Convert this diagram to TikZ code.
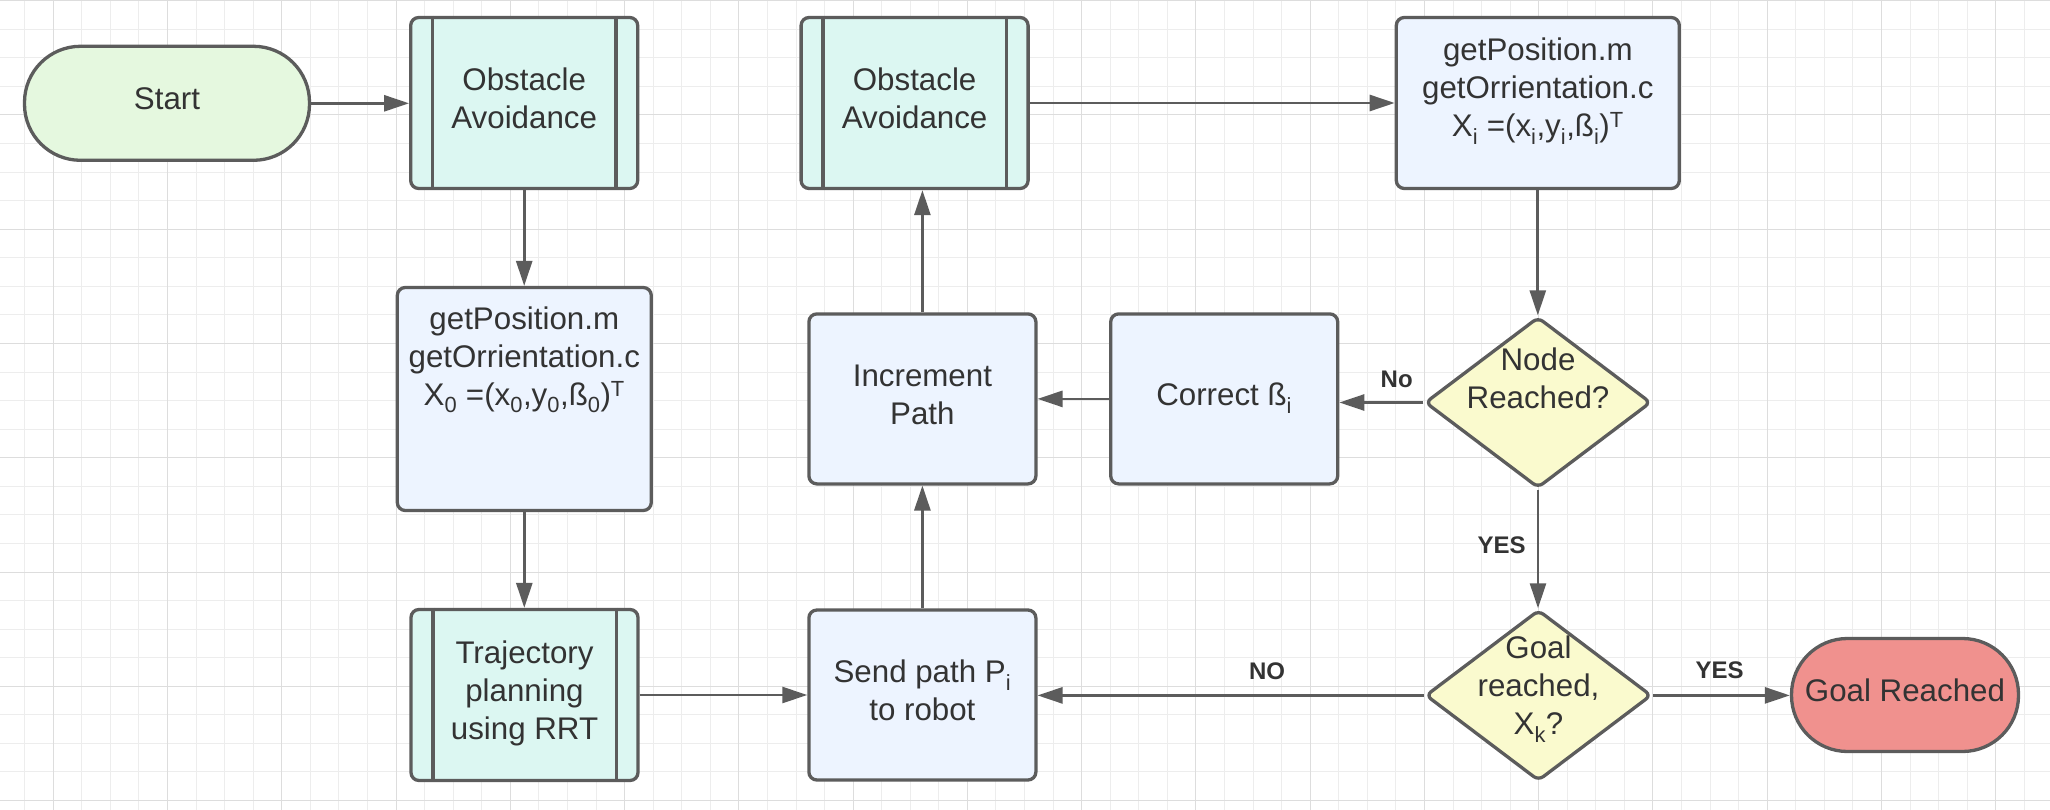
\documentclass[tikz,border=0pt]{standalone}
\usepackage{fontspec}
\setmainfont{Liberation Sans}
\usetikzlibrary{shapes.geometric,arrows.meta}
\definecolor{bord}{HTML}{5C5C5C}
\definecolor{txt}{HTML}{333333}
\definecolor{startc}{HTML}{E5F8DF}
\definecolor{obsc}{HTML}{DCF7F2}
\definecolor{procc}{HTML}{EDF4FF}
\definecolor{decc}{HTML}{FAFACE}
\definecolor{endc}{HTML}{F0918E}
\definecolor{gminor}{HTML}{EDEDED}
\definecolor{gmajor}{HTML}{DDDDDD}
\begin{document}
\begin{tikzpicture}[x=1pt,y=-1pt,
  base/.style={draw=bord, line width=3.3pt, text=txt, font=\fontsize{31.3}{38}\selectfont, align=center, inner sep=0pt, text depth=9pt},
  startnode/.style={base, fill=startc, rounded corners=56pt, minimum width=285pt, minimum height=114pt},
  endnode/.style={base, fill=endc, rounded corners=56pt, minimum width=227pt, minimum height=113pt},
  predef/.style={base, fill=obsc, rounded corners=8pt, minimum width=227pt, minimum height=171pt},
  proc/.style={base, fill=procc, rounded corners=8pt, minimum width=227pt, minimum height=170pt},
  decision/.style={base, diamond, fill=decc, rounded corners=6pt, minimum width=226pt, minimum height=171pt},
  textonly/.style={text=txt, font=\fontsize{31.3}{38}\selectfont, align=center, inner sep=0pt},
  edgelabel/.style={text=txt, font=\fontsize{24}{29}\selectfont\bfseries, inner sep=0pt},
  sideline/.style={draw=bord, line width=3.3pt},
  arr/.style={draw=bord, line width=2.7pt, -{Triangle[length=25pt,width=16pt]}},
  gridminor/.style={draw=gminor, line width=1pt},
  gridmajor/.style={draw=gmajor, line width=1pt}]
\useasboundingbox (0,0) rectangle (2050,810);
\fill[white] (0,0) rectangle (2050,810);
% grid
\foreach \i in {0,...,72}{
  \pgfmathsetmacro\gx{-3.83+28.565*\i}
  \draw[gridminor] (\gx,0) -- (\gx,810);}
\foreach \j in {0,...,28}{
  \pgfmathsetmacro\gy{0.7+28.565*\j}
  \draw[gridminor] (0,\gy) -- (2050,\gy);}
\foreach \i in {0,...,17}{
  \pgfmathsetmacro\gx{53.3+114.26*\i}
  \draw[gridmajor] (\gx,0) -- (\gx,810);}
\foreach \j in {0,...,7}{
  \pgfmathsetmacro\gy{0.7+114.26*\j}
  \draw[gridmajor] (0,\gy) -- (2050,\gy);}

% nodes
\node[startnode] (start) at (167,103.3) {Start};
\node[predef] (o1) at (524.2,103) {Obstacle\\Avoidance};
\draw[sideline] ([xshift=23.5pt]o1.north west) -- ([xshift=23.5pt]o1.south west);
\draw[sideline] ([xshift=-23.5pt]o1.north east) -- ([xshift=-23.5pt]o1.south east);
\node[predef] (o2) at (914.6,103) {Obstacle\\Avoidance};
\draw[sideline] ([xshift=23.5pt]o2.north west) -- ([xshift=23.5pt]o2.south west);
\draw[sideline] ([xshift=-23.5pt]o2.north east) -- ([xshift=-23.5pt]o2.south east);
\node[proc, minimum width=283pt, minimum height=171pt] (gpi) at (1537.8,103) {};
\node[textonly, anchor=north] (gpit) at (1537.8,38) {getPosition.m\\getOrrientation.c\\X\textsubscript{i} =(x\textsubscript{i},y\textsubscript{i},ß\textsubscript{i})\textsuperscript{T}};
\node[proc, minimum width=254pt, minimum height=223pt] (gp0) at (524.3,399) {};
\node[textonly, anchor=north] (gp0t) at (524.3,307) {getPosition.m\\getOrrientation.c\\X\textsubscript{0} =(x\textsubscript{0},y\textsubscript{0},ß\textsubscript{0})\textsuperscript{T}};
\node[proc] (inc) at (922.4,398.9) {Increment\\Path};
\node[proc] (cor) at (1224.2,398.9) {Correct ß\textsubscript{i}};
\node[decision] (nr) at (1538,402.5) {};
\node[textonly, anchor=north] (nrt) at (1538,348) {Node\\Reached?};
\node[predef] (traj) at (524.5,695) {Trajectory\\planning\\using RRT};
\draw[sideline] ([xshift=23.5pt]traj.north west) -- ([xshift=23.5pt]traj.south west);
\draw[sideline] ([xshift=-23.5pt]traj.north east) -- ([xshift=-23.5pt]traj.south east);
\node[proc] (send) at (922.4,695) {Send path P\textsubscript{i}\\to robot};
\node[decision] (gl) at (1538.5,695.4) {};
\node[textonly, anchor=north] (glt) at (1538.5,636) {Goal\\reached,\\X\textsubscript{k}?};
\node[endnode] (end) at (1905,695) {Goal Reached};

% connectors
\draw[arr] (start.east) -- (start.east -| o1.west);
\draw[arr] (o1.south) -- (o1.south |- gp0.north);
\draw[arr] (gp0.south) -- (gp0.south |- traj.north);
\draw[arr] (traj.east) -- (traj.east -| send.west);
\draw[arr] (send.north) -- (inc.south);
\draw[arr] (inc.north) -- (inc.north |- o2.south);
\draw[arr] (o2.east) -- (o2.east -| gpi.west);
\draw[arr] (gpi.south) -- (gpi.south |- nr.north);
\draw[arr] (nr.west) -- (nr.west -| cor.east);
\draw[arr] (cor.west) -- (cor.west -| inc.east);
\draw[arr] (nr.south) -- (nr.south |- gl.north);
\draw[arr] (gl.west) -- (gl.west -| send.east);
\draw[arr] (gl.east) -- (gl.east -| end.west);

% labels
\node[edgelabel] (lno1) at (1396.7,379.3) {No};
\node[edgelabel] (lyes1) at (1501.6,545.3) {YES};
\node[edgelabel] (lno2) at (1267,671) {NO};
\node[edgelabel] (lyes2) at (1719.5,670.5) {YES};
\end{tikzpicture}
\end{document}
